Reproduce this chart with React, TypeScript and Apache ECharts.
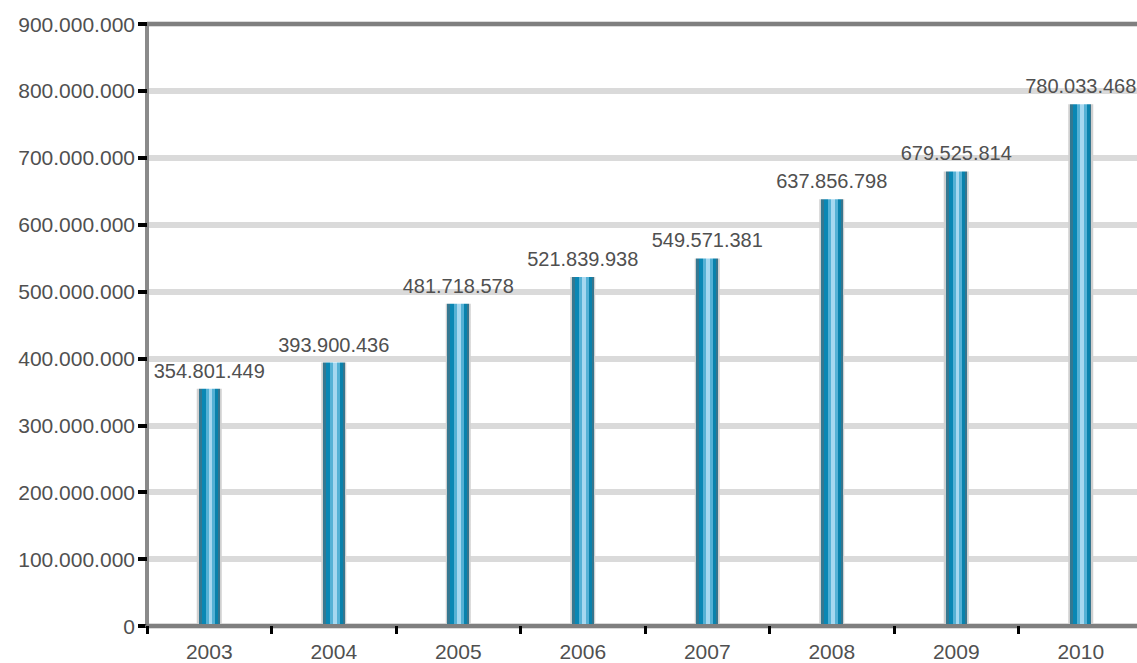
import React, { useEffect, useRef } from "react";
import * as echarts from "echarts";

const years = ["2003", "2004", "2005", "2006", "2007", "2008", "2009", "2010"];
const values = [354801449, 393900436, 481718578, 521839938, 549571381, 637856798, 679525814, 780033468];
const yMin = 0;
const yMax = 900000000;
const yStep = 100000000;

function fmt(v: number): string {
  return String(Math.round(v)).replace(/\B(?=(\d{3})+(?!\d))/g, ".");
}

const FONT = "Liberation Sans";
const TEXT = "#505050";

export default function App() {
  const ref = useRef<HTMLDivElement>(null);
  useEffect(() => {
    if (!ref.current) return;
    const chart = echarts.init(ref.current, null, { renderer: "svg" });
    const barGrad = new echarts.graphic.LinearGradient(0, 0, 1, 0, [
      { offset: 0, color: "#d0d0d0" },
      { offset: 0.07, color: "#d0d0d0" },
      { offset: 0.07, color: "#357891" },
      { offset: 0.19, color: "#357891" },
      { offset: 0.19, color: "#0a87b4" },
      { offset: 0.35, color: "#0a87b4" },
      { offset: 0.35, color: "#55b1d5" },
      { offset: 0.47, color: "#55b1d5" },
      { offset: 0.47, color: "#a6d8f0" },
      { offset: 0.62, color: "#a6d8f0" },
      { offset: 0.62, color: "#55b1d5" },
      { offset: 0.74, color: "#55b1d5" },
      { offset: 0.74, color: "#0a82ac" },
      { offset: 0.86, color: "#0a82ac" },
      { offset: 0.86, color: "#35758e" },
      { offset: 0.93, color: "#35758e" },
      { offset: 0.93, color: "#d0d0d0" },
      { offset: 1, color: "#d0d0d0" },
    ]);
    chart.setOption({
      animation: false,
      grid: { left: 147, right: 0, top: 24, bottom: 37, containLabel: false },
      xAxis: [
        {
          type: "category",
          data: years,
          position: "bottom",
          axisLine: { show: true, lineStyle: { color: "#7f7f7f", width: 4 } },
          axisTick: { show: true, length: 8, lineStyle: { color: "#000", width: 3 } },
          axisLabel: { fontSize: 21, color: TEXT, fontFamily: FONT, margin: 15 },
          splitLine: { show: false },
          z: 5,
        },
        {
          type: "category",
          data: years,
          position: "top",
          axisLine: { show: true, lineStyle: { color: "#7f7f7f", width: 4 } },
          axisTick: { show: false },
          axisLabel: { show: false },
          splitLine: { show: false },
        },
      ],
      yAxis: {
        type: "value",
        min: yMin,
        max: yMax,
        interval: yStep,
        axisLine: { show: true, lineStyle: { color: "#8a8a8a", width: 4 } },
        axisTick: { show: true, length: 9, lineStyle: { color: "#000", width: 4 } },
        axisLabel: { fontSize: 21, color: TEXT, fontFamily: FONT, margin: 12, formatter: (v: number) => fmt(v) },
        splitLine: { show: true, lineStyle: { color: "#dadada", width: 6 } },
      },
      series: [
        {
          type: "bar",
          xAxisIndex: 0,
          data: values,
          barWidth: 25,
          itemStyle: { color: barGrad },
          label: {
            show: true,
            position: "top",
            distance: 8,
            fontSize: 20,
            color: TEXT,
            fontFamily: FONT,
            formatter: (p: any) => fmt(p.value),
          },
          z: 3,
        },
      ],
    });
    return () => chart.dispose();
  }, []);
  return (
    <div style={{ position: "fixed", left: 0, top: 0, width: 1137, height: 663, overflow: "hidden", background: "#fff" }}>
      <div ref={ref} style={{ width: 1143, height: 663 }} />
    </div>
  );
}
